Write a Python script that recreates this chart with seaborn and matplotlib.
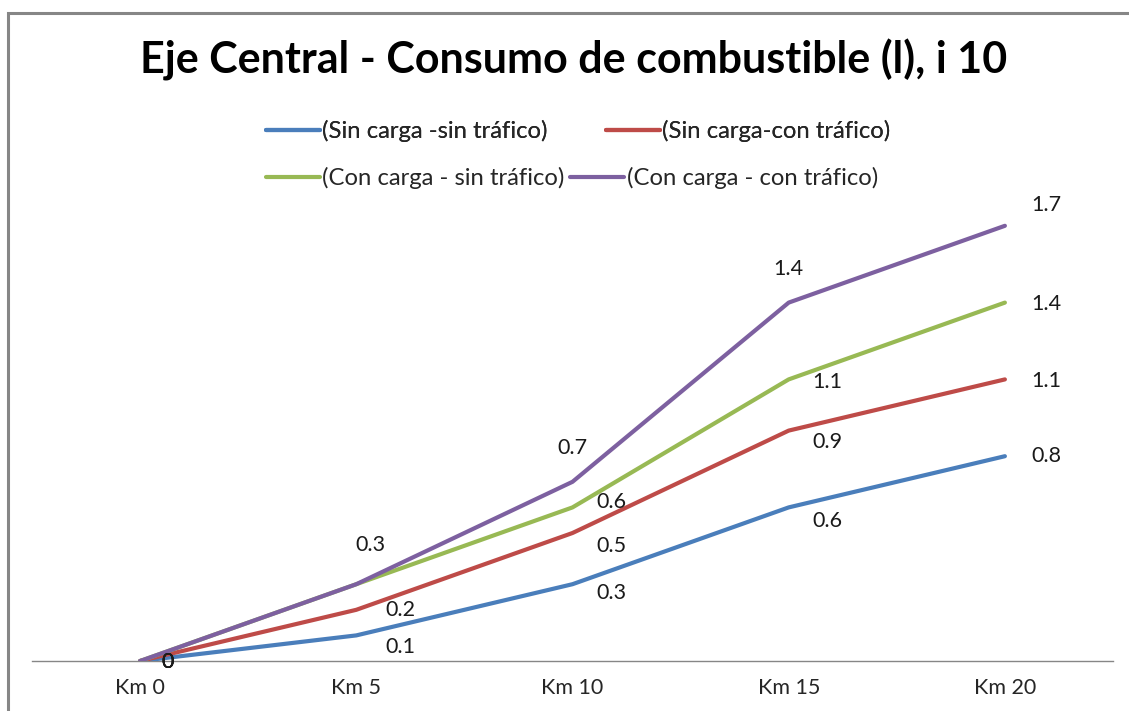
import matplotlib
matplotlib.use("Agg")
import matplotlib.pyplot as plt
from matplotlib.patches import Rectangle
import seaborn as sns
import pandas as pd

# Fuel consumption (litres) along Eje Central, i10
categories = ["Km 0", "Km 5", "Km 10", "Km 15", "Km 20"]
series_names = [
    "(Sin carga -sin tráfico)",
    "(Sin carga-con tráfico)",
    "(Con carga - sin tráfico)",
    "(Con carga - con tráfico)",
]
sin_carga_sin_trafico = [0.0, 0.1, 0.3, 0.6, 0.8]
sin_carga_con_trafico = [0.0, 0.2, 0.5, 0.9, 1.1]
con_carga_sin_trafico = [0.0, 0.3, 0.6, 1.1, 1.4]
con_carga_con_trafico = [0.0, 0.3, 0.7, 1.4, 1.7]
series_values = [sin_carga_sin_trafico, sin_carga_con_trafico,
                 con_carga_sin_trafico, con_carga_con_trafico]
colors = ["#4A7EBB", "#BE4B48", "#98B954", "#7D60A0"]

sns.set_theme(style="white")
plt.rcParams["font.family"] = ["Lato", "DejaVu Sans"]

df = pd.DataFrame(
    [(s, c, v) for s, vals in zip(series_names, series_values)
     for c, v in zip(categories, vals)],
    columns=["serie", "km", "litros"],
)
df["pos"] = df["km"].map({c: i for i, c in enumerate(categories)})

fig = plt.figure(figsize=(11.29, 7.11), dpi=100)
ax = fig.add_axes([32 / 1129, 50 / 711, 1081 / 1129, 460.8 / 711])

sns.lineplot(data=df, x="pos", y="litros", hue="serie", hue_order=series_names,
             palette=colors, linewidth=3.0, ax=ax, legend=False,
             solid_capstyle="round")

ax.set_xlim(-0.5, len(categories) - 0.5)
ax.set_ylim(0, 1.8)
ax.set_xticks(range(len(categories)))
ax.set_xticklabels(categories, fontsize=15.5, color="#262626")
ax.tick_params(axis="x", length=0, pad=12)
ax.set_yticks([])
ax.set_xlabel("")
ax.set_ylabel("")
for side in ["top", "right", "left"]:
    ax.spines[side].set_visible(False)
ax.spines["bottom"].set_color("#868686")
ax.spines["bottom"].set_linewidth(1.0)
ax.spines["bottom"].set_zorder(0)

# data label offsets (points) per series and category; None = label hidden
offsets = [
    [(20, -1), (32, -8), (28, -6), (28, -10), (30, 0)],
    [(20, -1), (32, 0), (28, -9), (28, -8), (30, -1)],
    [(20, -1), None, (28, 4), (28, -2), (30, -1)],
    [(20, -1), (10, 28), (0, 24), (0, 24), (30, 15)],
]
for vals, offs in zip(series_values, offsets):
    for i, (v, o) in enumerate(zip(vals, offs)):
        if o is None:
            continue
        label = "0" if v == 0 else f"{v:.1f}"
        ax.annotate(label, (i, v), xytext=o, textcoords="offset points",
                    ha="center", va="center", fontsize=15.5, color="#1a1a1a",
                    annotation_clip=False)

fig.text(0.508, 1 - 60 / 711, "Eje Central - Consumo de combustible (l), i 10",
         ha="center", va="center", fontsize=31, fontweight="bold", color="black")

# legend rows
lines = ax.get_lines()
leg_kw = dict(ncol=2, frameon=False, loc="center left", fontsize=17.2,
              handlelength=2.25, handletextpad=0.1, borderaxespad=0, borderpad=0)
leg1 = fig.legend(lines[0:2], series_names[0:2], columnspacing=2.45,
                  bbox_to_anchor=(266 / 1129, 1 - 131 / 711), **leg_kw)
leg2 = fig.legend(lines[2:4], series_names[2:4], columnspacing=0.25,
                  bbox_to_anchor=(266 / 1129, 1 - 178 / 711), **leg_kw)
fig.add_artist(leg1)

# chart area border
fig.patches.append(Rectangle((8 / 1129, -0.2), 1.2, 1.2 - 13 / 711,
                             transform=fig.transFigure, fill=False,
                             edgecolor="#868686", linewidth=2.2))

fig.savefig("out.png", dpi=100)
